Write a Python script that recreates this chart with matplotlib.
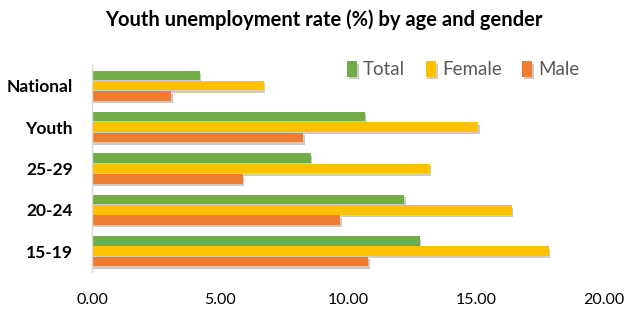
import matplotlib
matplotlib.use('Agg')
import matplotlib.pyplot as plt
import matplotlib.patheffects as pe
import numpy as np

plt.rcParams['font.family'] = ['Lato', 'DejaVu Sans']

categories = ['15-19', '20-24', '25-29', 'Youth', 'National']
total = [12.8, 12.2, 8.55, 10.65, 4.2]
female = [17.85, 16.4, 13.2, 15.1, 6.7]
male = [10.8, 9.7, 5.9, 8.25, 3.1]

series = [('Total', total, '#70AD47'),
          ('Female', female, '#FFC000'),
          ('Male', male, '#ED7D31')]

fig = plt.figure(figsize=(6.35, 3.14), dpi=100)
ax = fig.add_axes([0.145, 0.134, 0.806, 0.659])

y = np.arange(len(categories))
h = 0.25
shadow = [pe.SimplePatchShadow(offset=(1, -1.8), alpha=0.25), pe.Normal()]
for k, (name, vals, col) in enumerate(series):
    bars = ax.barh(y + (1 - k) * h, vals, height=h * 0.92, color=col, label=name)
    for b in bars:
        b.set_path_effects(shadow)

ax.set_xlim(0, 20)
ax.set_ylim(-0.5, len(categories) - 0.5)
ax.set_xticks([0, 5, 10, 15, 20])
ax.set_xticklabels(['%.2f' % v for v in [0, 5, 10, 15, 20]], fontsize=11.5)
ax.set_yticks(y)
ax.set_yticklabels(categories, fontsize=12.5, fontweight='bold')
ax.tick_params(length=0)
ax.tick_params(axis='y', pad=14)
ax.tick_params(axis='x', pad=15)

for s in ['top', 'right', 'bottom']:
    ax.spines[s].set_visible(False)
ax.spines['left'].set_color('#d9d9d9')
ax.spines['left'].set_linewidth(1)

fig.suptitle('Youth unemployment rate (%) by age and gender', fontsize=14.5,
             fontweight='bold', x=0.51, y=0.97)

leg = ax.legend(loc='upper right', bbox_to_anchor=(0.985, 1.1), ncol=3, frameon=False,
                fontsize=13.5, handlelength=0.55, handleheight=0.9, handletextpad=0.3,
                columnspacing=1.1)
for t in leg.get_texts():
    t.set_color('#595959')

fig.savefig('out.png', dpi=100)
